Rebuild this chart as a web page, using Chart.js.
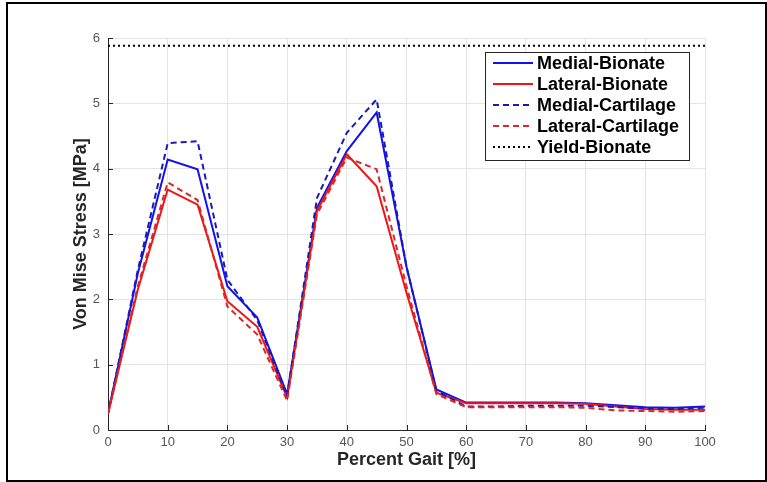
<!DOCTYPE html>
<html>
<head>
  <title>Von Mise Stress vs Percent Gait</title>
  <script src="https://cdn.jsdelivr.net/npm/chart.js@4.4.1/dist/chart.umd.min.js"></script>
  <style>
    html, body { margin: 0; padding: 0; background: #fff; }
    #wrap { position: relative; width: 767px; height: 482px; overflow: hidden; }
    #frame {
      position: absolute; left: 6px; top: 2px; right: 0; bottom: 0;
      border: 2px solid #000; box-sizing: border-box; pointer-events: none;
    }
    #myChart { position: absolute; left: 0; top: 0; }
  </style>
</head>
<body>
<div id="wrap">
  <canvas id="myChart" width="767" height="482"></canvas>
  <div id="frame"></div>
</div>
<script>
    // percent gait samples
    const gait = [0, 5, 10, 15, 20, 25, 30, 35, 40, 45, 50, 55, 60, 65, 70, 75, 80, 85, 90, 95, 100];

    // stress values [MPa]
    const medialBionate   = [0.25, 2.40, 4.14, 3.99, 2.20, 1.72, 0.55, 3.40, 4.27, 4.86, 2.50, 0.62, 0.42, 0.42, 0.42, 0.42, 0.41, 0.38, 0.35, 0.34, 0.36];
    const lateralBionate  = [0.25, 2.15, 3.68, 3.45, 1.97, 1.58, 0.50, 3.35, 4.22, 3.73, 2.10, 0.57, 0.41, 0.41, 0.41, 0.41, 0.40, 0.36, 0.32, 0.31, 0.31];
    const medialCartilage = [0.25, 2.45, 4.39, 4.42, 2.30, 1.68, 0.52, 3.55, 4.55, 5.06, 2.50, 0.60, 0.36, 0.36, 0.37, 0.37, 0.37, 0.35, 0.33, 0.32, 0.34];
    const lateralCartilage = [0.25, 2.20, 3.79, 3.52, 1.89, 1.46, 0.45, 3.30, 4.17, 3.99, 2.20, 0.55, 0.35, 0.35, 0.35, 0.35, 0.34, 0.30, 0.29, 0.28, 0.29];
    const yieldBionate = 5.88;

    const yTicks = [0, 1, 2, 3, 4, 5, 6];
    const xTicks = [0, 10, 20, 30, 40, 50, 60, 70, 80, 90, 100];

    function toPoints(values) {
      return gait.map((g, i) => ({ x: g, y: values[i] }));
    }

    // MATLAB style ticks pointing into the plot
    const innerTicks = {
      id: 'innerTicks',
      afterDraw(chart) {
        const ctx = chart.ctx;
        const area = chart.chartArea;
        const xs = chart.scales.x;
        const ys = chart.scales.y;
        ctx.save();
        ctx.strokeStyle = '#262626';
        ctx.lineWidth = 1;
        ctx.beginPath();
        xTicks.forEach(v => {
          const px = Math.round(xs.getPixelForValue(v)) + 0.5;
          ctx.moveTo(px, area.bottom);
          ctx.lineTo(px, area.bottom - 5);
        });
        yTicks.forEach(v => {
          const py = Math.round(ys.getPixelForValue(v)) + 0.5;
          ctx.moveTo(area.left, py);
          ctx.lineTo(area.left + 5, py);
        });
        ctx.stroke();
        ctx.restore();
      }
    };

    // legend box inside the axes, top right
    const boxLegend = {
      id: 'boxLegend',
      afterDraw(chart) {
        const ctx = chart.ctx;
        const area = chart.chartArea;
        const w = 204, h = 108;
        const left = area.right - 16 - w;
        const top = area.top + 14;
        ctx.save();
        ctx.fillStyle = '#fff';
        ctx.fillRect(left, top, w, h);
        ctx.strokeStyle = '#262626';
        ctx.lineWidth = 1;
        ctx.strokeRect(left + 0.5, top + 0.5, w, h);
        ctx.font = 'bold 18px "Liberation Sans", Arial, sans-serif';
        ctx.textBaseline = 'middle';
        ctx.fillStyle = '#000';
        chart.data.datasets.forEach((ds, i) => {
          const cy = top + 11 + i * 21;
          ctx.beginPath();
          ctx.strokeStyle = ds.borderColor;
          ctx.lineWidth = ds.borderWidth;
          ctx.setLineDash(ds.borderDash || []);
          ctx.moveTo(left + 8, cy);
          ctx.lineTo(left + 48, cy);
          ctx.stroke();
          ctx.setLineDash([]);
          ctx.fillText(ds.label, left + 52, cy + 1);
        });
        ctx.restore();
      }
    };

    const chartCanvas = document.getElementById('myChart');

    new Chart(chartCanvas, {
      type: 'line',
      data: {
        datasets: [
          {
            label: 'Medial-Bionate',
            data: toPoints(medialBionate),
            borderColor: '#1212ee',
            borderWidth: 2,
            order: 4
          },
          {
            label: 'Lateral-Bionate',
            data: toPoints(lateralBionate),
            borderColor: '#f01414',
            borderWidth: 2,
            order: 3
          },
          {
            label: 'Medial-Cartilage',
            data: toPoints(medialCartilage),
            borderColor: '#1a1ab4',
            borderWidth: 2,
            borderDash: [6, 4],
            order: 2
          },
          {
            label: 'Lateral-Cartilage',
            data: toPoints(lateralCartilage),
            borderColor: '#d82828',
            borderWidth: 2,
            borderDash: [6, 4],
            order: 1
          },
          {
            label: 'Yield-Bionate',
            data: [{ x: gait[0], y: yieldBionate }, { x: gait[gait.length - 1], y: yieldBionate }],
            borderColor: '#000',
            borderWidth: 2,
            borderDash: [2, 3],
            order: 0
          }
        ]
      },
      options: {
        responsive: false,
        animation: false,
        events: [],
        layout: { padding: { left: 0, top: 38, right: 62, bottom: 0 } },
        elements: {
          point: { radius: 0 },
          line: { tension: 0, fill: false }
        },
        plugins: {
          legend: { display: false },
          tooltip: { enabled: false }
        },
        scales: {
          x: {
            type: 'linear',
            min: 0,
            max: 100,
            afterFit: scale => { scale.height = 52; },
            afterBuildTicks: scale => { scale.ticks = xTicks.map(v => ({ value: v })); },
            grid: { color: '#e4e4e4', drawTicks: false },
            border: { color: '#262626', width: 1 },
            ticks: {
              padding: 5,
              color: '#555',
              font: { family: '"Liberation Sans", Arial, sans-serif', size: 13 }
            },
            title: {
              display: true,
              text: 'Percent Gait [%]',
              color: '#262626',
              padding: { top: 0, bottom: 11 },
              font: { family: '"Liberation Sans", Arial, sans-serif', size: 18, weight: 'bold' }
            }
          },
          y: {
            min: 0,
            max: 6,
            afterFit: scale => { scale.width = 108; },
            afterBuildTicks: scale => { scale.ticks = yTicks.map(v => ({ value: v })); },
            grid: { color: '#e4e4e4', drawTicks: false },
            border: { color: '#262626', width: 1 },
            ticks: {
              padding: 8,
              color: '#555',
              font: { family: '"Liberation Sans", Arial, sans-serif', size: 13 }
            },
            title: {
              display: true,
              text: 'Von Mise Stress [MPa]',
              color: '#262626',
              padding: { top: 70, bottom: 0 },
              font: { family: '"Liberation Sans", Arial, sans-serif', size: 18, weight: 'bold' }
            }
          }
        }
      },
      plugins: [innerTicks, boxLegend]
    });
</script>
</body>
</html>
